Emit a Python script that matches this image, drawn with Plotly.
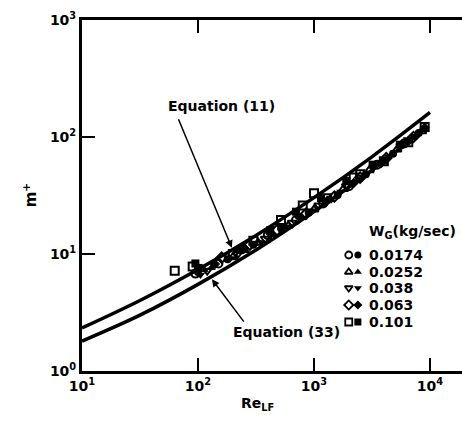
import plotly.graph_objects as go

# ---- curves ----
eq_re = [10, 31.6, 100, 316, 1000, 3160, 10000]
eq11_m = [2.33, 4.0, 7.36, 14.4, 30.3, 67.7, 162]
eq33_re = [10, 31.6, 100, 316, 1000, 3160, 9000]
eq33_m = [1.8, 3.0, 5.5, 10.8, 23, 52, 118]

# ---- data (open / filled per W_G series) ----
wg_labels = ["0.0174", "0.0252", "0.038", "0.063", "0.101"]
symbols = ["circle", "triangle-up", "triangle-down", "diamond", "square"]

open_re = [
    [95, 150, 240, 400, 700, 1200, 2000, 3500, 6000],
    [110, 200, 330, 600, 1000, 1800, 3000, 5200, 8500],
    [120, 220, 380, 650, 1100, 1900, 3300, 5600],
    [160, 280, 480, 850, 1500, 2500, 4200, 7200],
    [63, 90, 200, 300, 520, 800, 1000, 1300, 2200, 2500, 4000, 6500, 9000],
]
open_m = [
    [6.8, 8.3, 11.0, 14.5, 19.5, 27, 38, 58, 88],
    [7.4, 9.4, 12.5, 17.5, 24, 36, 52, 78, 112],
    [7.2, 10.0, 13.5, 18.5, 26, 38, 57, 84],
    [9.3, 12.0, 16.0, 22, 31, 45, 66, 100],
    [7.2, 7.8, 10.0, 13.0, 19.5, 26, 33, 30, 45, 48, 62, 90, 122],
]
filled_re = [
    [100, 180, 300, 520, 900, 1600, 2800, 4800, 8000],
    [130, 260, 450, 800, 1400, 2400, 4000, 7000],
    [105, 190, 350, 580, 950, 1700, 2600, 4400, 7500],
    [140, 250, 420, 750, 1300, 2200, 3800, 6500, 9000],
    [95, 100, 230, 420, 700, 1150, 1900, 3200, 5500],
]
filled_m = [
    [7.0, 9.0, 12.0, 16.5, 22.5, 32, 48, 72, 108],
    [7.6, 10.6, 14.5, 20.5, 29, 43, 64, 98],
    [6.6, 9.2, 12.6, 17.2, 23.5, 34, 46, 68, 102],
    [8.2, 11.2, 15.0, 20.5, 28.5, 40.5, 60, 92, 120],
    [8.3, 7.6, 10.8, 16, 23, 30, 42, 58, 86],
]

x_tickvals = [10, 100, 1000, 10000]
x_ticktext = ["10<sup>1</sup>", "10<sup>2</sup>", "10<sup>3</sup>", "10<sup>4</sup>"]
y_tickvals = [1, 10, 100, 1000]
y_ticktext = ["10<sup>0</sup>", "10<sup>1</sup>", "10<sup>2</sup>", "10<sup>3</sup>"]

FONT = "DejaVu Sans"
fig = go.Figure()

fig.add_trace(go.Scatter(x=eq_re, y=eq11_m, mode="lines", line=dict(color="black", width=3.5, shape="spline"), showlegend=False))
fig.add_trace(go.Scatter(x=eq33_re, y=eq33_m, mode="lines", line=dict(color="black", width=3.5, shape="spline"), showlegend=False))

for i in range(5):
    fig.add_trace(go.Scatter(x=open_re[i], y=open_m[i], mode="markers",
                             marker=dict(symbol=symbols[i] + "-open", size=8, color="black", line=dict(width=2, color="black")),
                             showlegend=False))
    fig.add_trace(go.Scatter(x=filled_re[i], y=filled_m[i], mode="markers",
                             marker=dict(symbol=symbols[i], size=8, color="black"),
                             showlegend=False))

# custom legend on overlay axes
leg_y = [0.3305, 0.2821, 0.2365, 0.1880, 0.1396]
for i in range(5):
    fig.add_trace(go.Scatter(x=[0.702], y=[leg_y[i]], xaxis="x2", yaxis="y2", mode="markers",
                             marker=dict(symbol=symbols[i] + "-open", size=7, color="black", line=dict(width=1.8, color="black")),
                             showlegend=False, hoverinfo="skip"))
    fig.add_trace(go.Scatter(x=[0.726], y=[leg_y[i]], xaxis="x2", yaxis="y2", mode="markers",
                             marker=dict(symbol=symbols[i], size=7, color="black"),
                             showlegend=False, hoverinfo="skip"))
    fig.add_annotation(x=0.750, y=leg_y[i], xref="paper", yref="paper", text=wg_labels[i],
                       showarrow=False, xanchor="left", yanchor="middle",
                       font=dict(family=FONT, size=14, color="black", weight="bold"))

fig.add_annotation(x=0.75, y=0.396, xref="paper", yref="paper", text="W<sub>G</sub>(kg/sec)",
                   showarrow=False, xanchor="left", yanchor="middle",
                   font=dict(family=FONT, size=14, color="black", weight="bold"))

# equation labels and arrows
fig.add_annotation(x=0.368, y=0.783, xref="paper", yref="paper", text="Equation (11)", showarrow=False,
                   font=dict(family=FONT, size=14, color="black", weight="bold"))
fig.add_annotation(x=0.539, y=0.083, xref="paper", yref="paper", text="Equation (33)", showarrow=False,
                   font=dict(family=FONT, size=14, color="black", weight="bold"))
fig.add_annotation(x=2.292, y=1.053, xref="x", yref="y", text="", showarrow=True, ax=-54, ay=-130,
                   arrowhead=2, arrowsize=1, arrowwidth=1.5, arrowcolor="black")
fig.add_annotation(x=2.12, y=0.785, xref="x", yref="y", text="", showarrow=True, ax=33, ay=44,
                   arrowhead=2, arrowsize=1, arrowwidth=1.5, arrowcolor="black")

# axis titles
fig.add_annotation(x=-0.168, y=0.501, xref="paper", yref="paper", text="m<sup>+</sup>", textangle=-90,
                   showarrow=False, font=dict(family=FONT, size=15, color="black", weight="bold"))
fig.add_annotation(x=0.461, y=-0.125, xref="paper", yref="paper", text="Re<sub>LF</sub>",
                   showarrow=False, font=dict(family=FONT, size=14, color="black", weight="bold"))

tick_font = dict(family=FONT, size=14, color="black", weight="bold")
fig.update_layout(
    width=462, height=436,
    margin=dict(l=82, r=0, t=20, b=65),
    paper_bgcolor="white", plot_bgcolor="white",
    xaxis=dict(type="log", range=[1, 4.276], tickvals=x_tickvals, ticktext=x_ticktext,
               showgrid=False, zeroline=False, showline=True, linewidth=3, linecolor="black",
               mirror="ticks", ticks="inside", ticklen=13, tickwidth=2, tickcolor="black",
               tickfont=tick_font),
    yaxis=dict(type="log", range=[0, 3], tickvals=y_tickvals, ticktext=y_ticktext,
               showgrid=False, zeroline=False, showline=True, linewidth=3, linecolor="black",
               mirror=False, ticks="inside", ticklen=13, tickwidth=2, tickcolor="black",
               tickfont=tick_font),
    xaxis2=dict(overlaying="x", range=[0, 1], visible=False),
    yaxis2=dict(overlaying="y", range=[0, 1], visible=False),
)

fig.write_html("out.html")
